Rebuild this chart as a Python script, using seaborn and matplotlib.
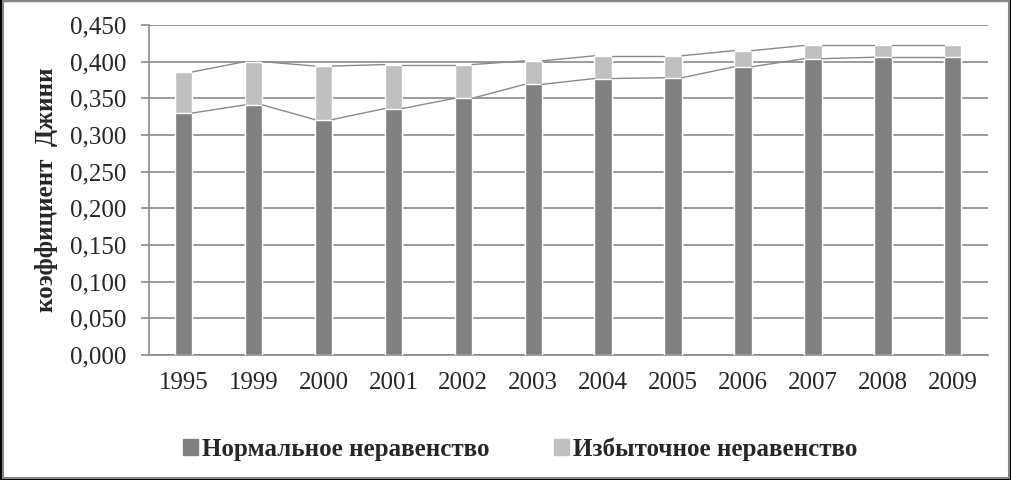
import matplotlib
matplotlib.use("Agg")
import matplotlib.pyplot as plt
import matplotlib.patches as mpatches
from matplotlib.ticker import FuncFormatter, MultipleLocator
import pandas as pd
import seaborn as sns

# data
years = ["1995", "1999", "2000", "2001", "2002", "2003",
         "2004", "2005", "2006", "2007", "2008", "2009"]
normal = [0.330, 0.341, 0.321, 0.336, 0.350, 0.369,
          0.377, 0.378, 0.393, 0.404, 0.406, 0.406]
excess = [0.056, 0.059, 0.073, 0.060, 0.046, 0.032,
          0.031, 0.030, 0.022, 0.018, 0.016, 0.016]

label_normal = "Нормальное неравенство"
label_excess = "Избыточное неравенство"
y_label = "коэффициент  Джини"

dark = "#808080"
light = "#c0c0c0"
line_gray = "#8a8a8a"


def main():
    df = pd.DataFrame({"year": years, "normal": normal, "excess": excess})
    df["total"] = df["normal"] + df["excess"]

    sns.set_style("white")
    plt.rcParams["font.family"] = ["Liberation Serif", "DejaVu Serif"]

    fig = plt.figure(figsize=(10.12, 4.8), dpi=100)
    ax = fig.add_axes([0.147, 0.2604, 0.829, 0.6876])

    bw = 0.25
    # total first (light), normal drawn over it (dark) -> stacked look
    sns.barplot(data=df, x="year", y="total", color=light, width=bw,
                saturation=1, ax=ax, zorder=3)
    sns.barplot(data=df, x="year", y="normal", color=dark, width=bw,
                saturation=1, ax=ax, zorder=4)

    # series lines between neighbouring bars
    for col in ["normal", "total"]:
        vals = df[col].tolist()
        for i in range(len(vals) - 1):
            ax.plot([i + bw / 2, i + 1 - bw / 2], [vals[i], vals[i + 1]],
                    color=line_gray, lw=1, zorder=5)

    ax.set_xlim(-0.5, len(years) - 0.5)
    ax.set_ylim(0, 0.45)
    ax.yaxis.set_major_locator(MultipleLocator(0.05))
    ax.yaxis.set_major_formatter(
        FuncFormatter(lambda v, p: f"{v:.3f}".replace(".", ",")))
    ax.grid(axis="y", color=line_gray, lw=1.2, zorder=0)
    ax.set_axisbelow(True)

    for s in ["top", "right"]:
        ax.spines[s].set_visible(False)
    for s in ["left", "bottom"]:
        ax.spines[s].set_color(line_gray)
        ax.spines[s].set_linewidth(1.2)

    ax.tick_params(axis="y", which="major", length=6, color=line_gray,
                   width=1.2, left=True, labelsize=18, pad=10)
    ax.tick_params(axis="x", length=0, labelsize=18, pad=12)

    ax.set_xlabel("")
    ax.set_ylabel(y_label, fontsize=18, fontweight="bold", labelpad=9)

    handles = [mpatches.Patch(color=dark, label=label_normal),
               mpatches.Patch(color=light, label=label_excess)]
    fig.legend(handles=handles, loc="center", bbox_to_anchor=(0.514, 0.065),
               ncol=2, frameon=False, handlelength=0.6, handleheight=0.6,
               handletextpad=0.15, columnspacing=2.6,
               prop={"size": 18, "weight": "bold"})

    # outer frame with a dark shadow edge
    fig.patches.append(mpatches.Rectangle((0, 0), 1, 1, transform=fig.transFigure,
                                          fill=False, edgecolor="black", lw=3))
    fig.patches.append(mpatches.Rectangle((0.003, 0.004), 0.994, 0.994,
                                          transform=fig.transFigure, fill=False,
                                          edgecolor="#868686", lw=1.5))

    fig.savefig("out.png", dpi=100)


if __name__ == "__main__":
    main()
